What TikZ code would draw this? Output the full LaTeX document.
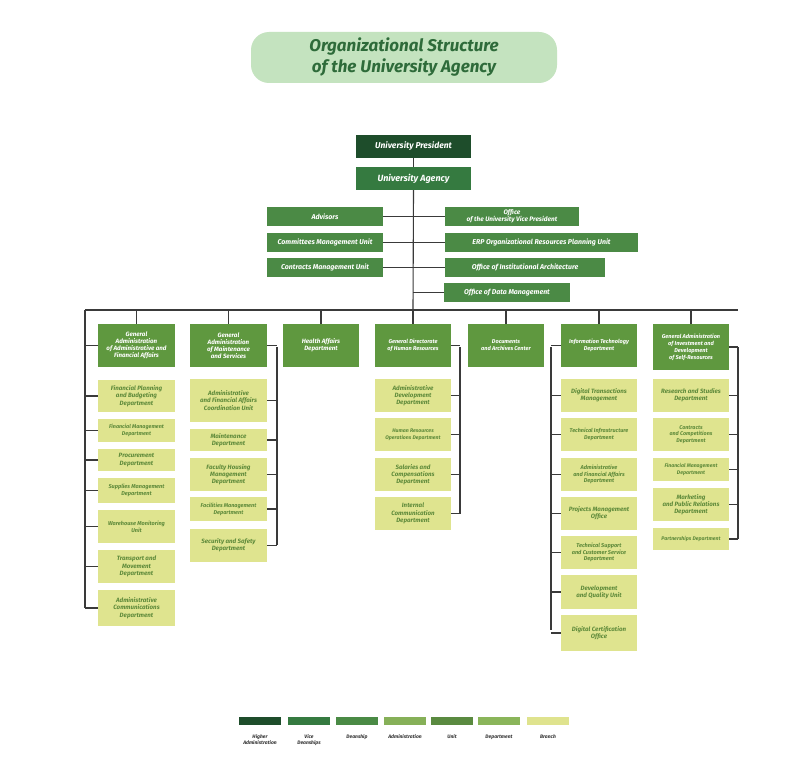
\documentclass[tikz,border=0pt]{standalone}
\usepackage{fontspec}
\setmainfont{Fira Sans}
\begin{document}
\begin{tikzpicture}[x=1pt,y=-1pt,
  box/.style={draw=none,inner sep=1pt,align=center,font=\bfseries\itshape\fontsize{6.2}{7.2}\selectfont},
  head/.style={box,fill=hd,text=white},
  unit/.style={box,fill=un,text=white,font=\bfseries\itshape\fontsize{7}{8}\selectfont},
  kid/.style={box,fill=br,text=kt},
  ln/.style={draw=lc,line width=1.1pt},
  lab/.style={font=\bfseries\itshape\fontsize{5}{6}\selectfont,text=black!80,align=center}]
\definecolor{hd}{HTML}{5F983F}
\definecolor{un}{HTML}{4B8A45}
\definecolor{br}{HTML}{DFE48F}
\definecolor{kt}{HTML}{5E8A3A}
\definecolor{lc}{HTML}{3A3A3A}
\definecolor{ttl}{HTML}{C4E3BF}
\definecolor{tt}{HTML}{2E6B3A}
\definecolor{c1}{HTML}{1E4D2B}
\definecolor{c2}{HTML}{357A40}
\definecolor{c3}{HTML}{4A8A45}
\definecolor{c4}{HTML}{86B058}
\definecolor{c5}{HTML}{5A8A40}
\definecolor{c6}{HTML}{8AB55A}
\definecolor{c7}{HTML}{DFE38E}
\useasboundingbox[fill=white] (0,0) rectangle (800,781);
% title
\node[fill=ttl,rounded corners=18pt,minimum width=306,minimum height=51,align=center,text=tt,font=\bfseries\itshape\fontsize{17}{21}\selectfont] (title) at (404,57.5) {Organizational Structure\\of the University Agency};
% top
\node[box,fill=c1,text=white,minimum width=115,minimum height=23,font=\bfseries\itshape\fontsize{8.5}{10}\selectfont] (pres) at (413.5,146.5) {University President};
\node[box,fill=c2,text=white,minimum width=115,minimum height=23,font=\bfseries\itshape\fontsize{9}{10}\selectfont] (agen) at (413.5,178.5) {University Agency};
\coordinate (trunk) at (413,310);
\node[unit,minimum width=116,minimum height=19] (adv) at (325,216.5) {Advisors};
\node[unit,minimum width=116,minimum height=19] (com) at (325,242.5) {Committees Management Unit};
\node[unit,minimum width=116,minimum height=19] (con) at (325,267.5) {Contracts Management Unit};
\node[unit,minimum width=134,minimum height=19,font=\bfseries\itshape\fontsize{6.5}{7}\selectfont] (ovp) at (512,216.5) {Office\\of the University Vice President};
\node[unit,minimum width=193,minimum height=19] (erp) at (541.5,242.5) {ERP Organizational Resources Planning Unit};
\node[unit,minimum width=160,minimum height=19] (oia) at (525,267.5) {Office of Institutional Architecture};
\node[unit,minimum width=126,minimum height=19] (odm) at (507,292.5) {Office of Data Management};
\draw[ln] (pres) -- (agen);
\draw[ln] (agen.south) -- (trunk);
\foreach \n in {adv,com,con}{\draw[ln] (\n.east) -- (\n.east -| trunk);}
\foreach \n in {ovp,erp,oia,odm}{\draw[ln] (\n.west) -- (\n.west -| trunk);}
% heads
\coordinate (hl) at (85,310);
\coordinate (hr) at (738,310);
\draw[ln] (hl) -- (hr);
\node[head,minimum width=77,minimum height=43] (h1) at (136.5,345.5) {General\\Administration\\of Administrative and\\Financial Affairs};
\node[head,minimum width=77,minimum height=43] (h2) at (228.5,345.5) {General\\Administration\\of Maintenance\\and Services};
\node[head,minimum width=76,minimum height=43] (h3) at (321,345.5) {Health Affairs\\Department};
\node[head,minimum width=76,minimum height=43,font=\bfseries\itshape\fontsize{5.6}{7}\selectfont] (h4) at (413,345.5) {General Directorate\\of Human Resources};
\node[head,minimum width=76,minimum height=43,font=\bfseries\itshape\fontsize{5.6}{7}\selectfont] (h5) at (506,345.5) {Documents\\and Archives Center};
\node[head,minimum width=76,minimum height=43,font=\bfseries\itshape\fontsize{5.6}{7}\selectfont] (h6) at (599,345.5) {Information Technology\\Department};
\node[head,minimum width=76,minimum height=46,font=\bfseries\itshape\fontsize{5.6}{7}\selectfont] (h7) at (691,347) {General Administration\\of Investment and\\Development\\of Self-Resources};
\foreach \n in {h1,h2,h3,h4,h5,h6,h7}{\draw[ln] (\n.north) -- (\n.north |- hl);}
% column 1
\coordinate (v1) at (85,608);
\node[kid,minimum width=77,minimum height=32] (a1) at (136.5,396) {Financial Planning\\and Budgeting\\Department};
\node[kid,minimum width=77,minimum height=23,font=\bfseries\itshape\fontsize{5.4}{6.6}\selectfont] (a2) at (136.5,430.5) {Financial Management\\Department};
\node[kid,minimum width=77,minimum height=22] (a3) at (136.5,460) {Procurement\\Department};
\node[kid,minimum width=77,minimum height=25,font=\bfseries\itshape\fontsize{5.6}{6.8}\selectfont] (a4) at (136.5,490.5) {Supplies Management\\Department};
\node[kid,minimum width=77,minimum height=33,font=\bfseries\itshape\fontsize{5.6}{6.8}\selectfont] (a5) at (136.5,526.5) {Warehouse Monitoring\\Unit};
\node[kid,minimum width=77,minimum height=33] (a6) at (136.5,566.5) {Transport and\\Movement\\Department};
\node[kid,minimum width=77,minimum height=36] (a7) at (136.5,608) {Administrative\\Communications\\Department};
\draw[ln] (hl) -- (v1);
\foreach \n in {h1,a1,a2,a3,a4,a5,a6,a7}{\draw[ln] (\n.west) -- (\n.west -| v1);}
% column 2
\coordinate (t2) at (277,347);
\coordinate (v2) at (277,545);
\node[kid,minimum width=77,minimum height=43] (b1) at (228.5,400.5) {Administrative\\and Financial Affairs\\Coordination Unit};
\node[kid,minimum width=77,minimum height=22] (b2) at (228.5,440) {Maintenance\\Department};
\node[kid,minimum width=77,minimum height=33] (b3) at (228.5,474.5) {Faculty Housing\\Management\\Department};
\node[kid,minimum width=77,minimum height=24,font=\bfseries\itshape\fontsize{5.5}{6.8}\selectfont] (b4) at (228.5,509) {Facilities Management\\Department};
\node[kid,minimum width=77,minimum height=33] (b5) at (228.5,545.5) {Security and Safety\\Department};
\draw[ln] (t2) -- (v2);
\foreach \n in {h2,b1,b2,b3,b4,b5}{\draw[ln] (\n.east |- \n.center) -- (\n.center -| v2);}
% column 4
\coordinate (t4) at (460,347);
\coordinate (v4) at (460,514);
\node[kid,minimum width=76,minimum height=33] (d1) at (413,395.5) {Administrative\\Development\\Department};
\node[kid,minimum width=76,minimum height=33,font=\bfseries\itshape\fontsize{5.2}{6.6}\selectfont] (d2) at (413,434.5) {Human Resources\\Operations Department};
\node[kid,minimum width=76,minimum height=33] (d3) at (413,474.5) {Salaries and\\Compensations\\Department};
\node[kid,minimum width=76,minimum height=33] (d4) at (413,513.5) {Internal\\Communication\\Department};
\draw[ln] (t4) -- (v4);
\foreach \n in {h4,d1,d2,d3,d4}{\draw[ln] (\n.east |- \n.center) -- (\n.center -| v4);}
% column 6
\coordinate (t6) at (551,347);
\coordinate (v6) at (551,630);
\node[kid,minimum width=76,minimum height=33] (f1) at (599,395.5) {Digital Transactions\\Management};
\node[kid,minimum width=76,minimum height=33,font=\bfseries\itshape\fontsize{5.5}{6.8}\selectfont] (f2) at (599,434.5) {Technical Infrastructure\\Department};
\node[kid,minimum width=76,minimum height=33,font=\bfseries\itshape\fontsize{5.6}{6.8}\selectfont] (f3) at (599,474.5) {Administrative\\and Financial Affairs\\Department};
\node[kid,minimum width=76,minimum height=33] (f4) at (599,513.5) {Projects Management\\Office};
\node[kid,minimum width=76,minimum height=33,font=\bfseries\itshape\fontsize{5.6}{6.8}\selectfont] (f5) at (599,552.5) {Technical Support\\and Customer Service\\Department};
\node[kid,minimum width=76,minimum height=34] (f6) at (599,592) {Development\\and Quality Unit};
\node[kid,minimum width=76,minimum height=36] (f7) at (599,633) {Digital Certification\\Office};
\draw[ln] (t6) -- (v6);
\foreach \n in {h6,f1,f2,f3,f4,f5,f6,f7}{\draw[ln] (\n.west |- \n.center) -- (\n.center -| v6);}
% column 7
\coordinate (t7) at (738,347);
\coordinate (v7) at (738,539);
\node[kid,minimum width=76,minimum height=33] (g1) at (691,395.5) {Research and Studies\\Department};
\node[kid,minimum width=76,minimum height=33,font=\bfseries\itshape\fontsize{5.4}{6.6}\selectfont] (g2) at (691,434.5) {Contracts\\and Competitions\\Department};
\node[kid,minimum width=76,minimum height=23,font=\bfseries\itshape\fontsize{5.2}{6.5}\selectfont] (g3) at (691,469.5) {Financial Management\\Department};
\node[kid,minimum width=76,minimum height=33] (g4) at (691,504.5) {Marketing\\and Public Relations\\Department};
\node[kid,minimum width=76,minimum height=22,font=\bfseries\itshape\fontsize{5.2}{6.5}\selectfont] (g5) at (691,539) {Partnerships Department};
\draw[ln] (t7) -- (v7);
\foreach \n in {h7,g1,g2,g3,g4,g5}{\draw[ln] (\n.east |- \n.center) -- (\n.center -| v7);}
% legend
\foreach \i/\x/\t in {1/260/{Higher\\Administration},2/309/{Vice\\Deanships},3/357/{Deanship},4/405/{Administration},5/452/{Unit},6/499/{Department},7/548/{Branch}}{
  \node[fill=c\i,minimum width=42,minimum height=8,inner sep=0] (lg\i) at (\x,721) {};
  \node[lab,anchor=north] (lt\i) at (\x,731) {\t};
}
\end{tikzpicture}
\end{document}
